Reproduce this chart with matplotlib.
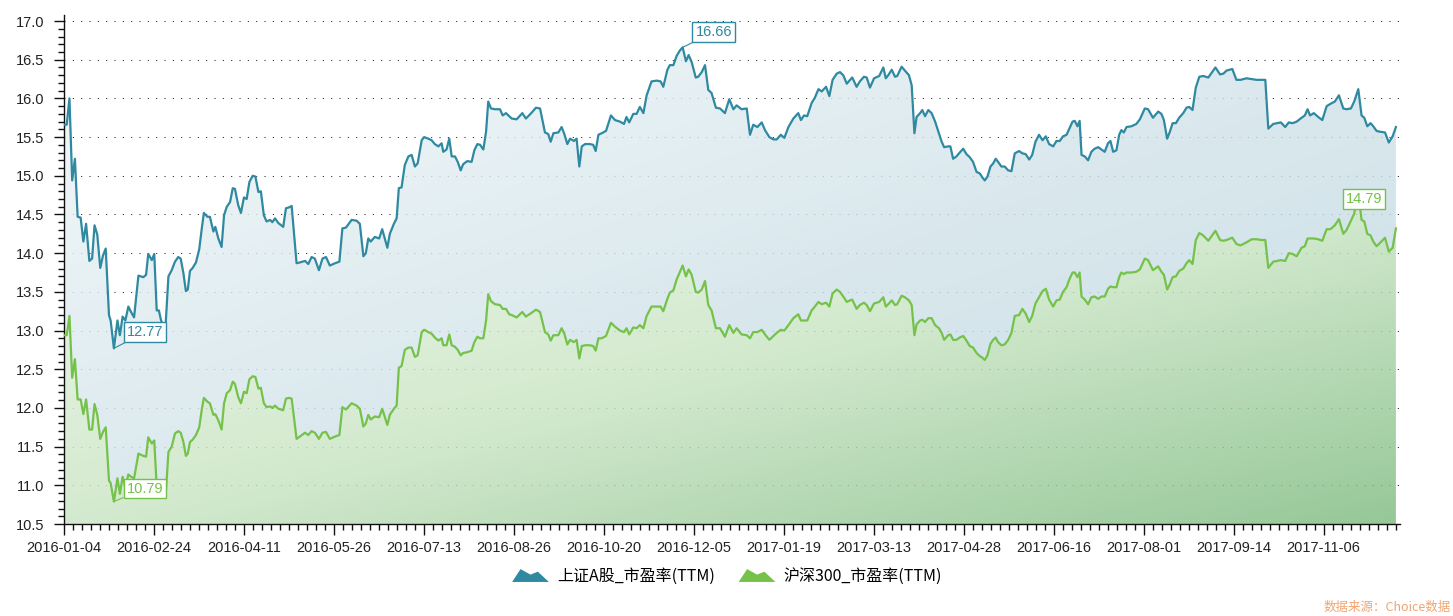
import numpy as np
import matplotlib
matplotlib.use('Agg')
import matplotlib.pyplot as plt
from matplotlib.ticker import MultipleLocator, FixedLocator, FormatStrFormatter
from matplotlib.legend_handler import HandlerBase
from matplotlib.patches import Polygon, Patch
from matplotlib.colors import LinearSegmentedColormap

# trading-day position (0 = 2016-01-04)
day_pos = [
    0.4, 1.0, 2.0, 3.0, 4.0, 5.0, 6.1, 7.1, 8.1, 9.3, 10.3, 11.2, 12.2, 13.3, 14.3, 15.3,
    16.5, 17.1, 18.3, 19.6, 20.5, 21.5, 22.5, 23.6, 24.6, 25.7, 27.3, 29.1, 30.1, 30.9,
    32.2, 33.1, 34.0, 34.8, 35.6, 36.4, 37.3, 38.3, 39.5, 40.7, 41.9, 42.8, 43.8, 44.7,
    45.4, 46.2, 47.2, 48.4, 49.6, 50.5, 51.3, 52.6, 53.5, 54.8, 55.5, 56.6, 57.8, 58.7,
    59.7, 60.9, 61.9, 62.7, 63.9, 64.9, 66.0, 67.0, 68.0, 69.2, 70.2, 71.3, 72.2, 73.3,
    74.3, 75.6, 76.4, 77.4, 78.6, 80.4, 81.4, 82.4,
    83.5, 85.3, 86.5, 88.4, 89.6, 90.8, 92.0, 93.5, 94.8, 96.1, 97.5, 99.4, 101.0, 102.1,
    103.4, 105.5, 107.3, 108.5, 109.8, 110.7, 111.6, 112.5, 114.0, 115.6, 116.7, 118.6,
    119.5, 121.0, 122.0, 122.8, 123.8, 125.0, 126.3, 127.5, 128.7, 129.7, 131.2, 132.1,
    133.6, 134.8, 136.0, 137.3, 138.5, 139.1, 140.3, 141.3, 142.2, 143.4, 144.4, 145.5,
    146.4, 147.9, 149.5, 150.5, 151.6, 152.6, 153.8, 154.8, 155.6, 156.6, 158.1, 159.9,
    160.9, 162.1, 163.3,
    164.2, 166.0, 168.1, 169.4, 171.1, 173.1, 174.6, 176.4, 177.6, 178.5, 179.5, 181.3,
    182.5, 183.5, 184.6, 185.6, 187.0, 188.0, 189.0, 189.9, 191.1, 192.9, 194.1, 195.0,
    196.0, 197.2, 198.8, 200.6, 202.1, 203.9, 205.4, 206.3, 207.3, 208.8, 210.0, 211.2,
    212.5, 213.7, 215.5, 217.4, 218.8, 219.8, 221.3, 222.2, 223.5, 224.7, 225.9, 226.9,
    228.1, 229.1, 230.2, 231.7, 232.6, 233.9, 235.1, 236.3, 237.5, 239.1, 240.6, 242.4,
    244.0,
    245.5, 246.7, 248.5, 250.4, 251.6, 252.8, 254.3, 255.9, 257.1, 258.7, 260.2, 261.4,
    262.9, 264.2, 265.7, 267.5, 269.3, 270.3, 271.4, 272.6, 274.2, 275.4, 276.7, 277.9,
    279.5, 280.7, 281.9, 283.4, 284.6, 285.8, 287.1, 288.3, 289.1, 290.7, 291.9, 293.4,
    294.4, 295.6, 297.1, 299.0, 300.5, 301.4, 302.3, 303.6, 304.8, 305.6, 307.2, 308.4,
    309.9, 310.9, 311.9, 312.7, 314.0, 314.8, 315.8, 317.0, 318.2, 319.5, 320.9, 321.9,
    322.8, 324.3,
    325.1, 326.1, 327.3, 328.5, 329.8, 331.0, 332.2, 333.4, 334.7, 335.9, 336.8, 337.7,
    338.7, 339.8, 340.8, 341.7, 342.6, 343.8, 345.0, 346.3, 347.5, 348.7, 350.3, 351.5,
    352.7, 354.0, 355.1, 356.3, 357.6, 358.9, 360.1, 361.3, 362.8, 364.0, 365.2, 366.4,
    367.7, 368.6, 369.9, 370.7, 371.7, 372.5, 373.2, 374.4, 375.6, 376.8, 378.0, 379.3,
    380.5, 381.7, 382.9, 383.8, 384.8, 386.0, 387.0, 387.8, 388.7, 389.7, 391.5, 393.3,
    394.6, 396.4, 397.6, 399.4, 401.3, 402.5, 403.4, 404.6, 405.6,
    406.6, 407.8, 409.0, 410.5, 411.7, 412.7, 413.9, 415.1, 416.4, 417.8, 419.7, 420.9,
    422.3, 424.0, 425.2, 426.4, 428.5, 430.0, 431.5, 433.7, 435.6, 437.4, 439.2, 440.6,
    441.7, 443.5, 445.0, 446.3, 447.9, 449.2, 450.6, 452.1, 453.9, 455.1, 456.1, 457.0,
    458.4, 460.0, 461.5, 463.1, 464.5, 466.1, 467.6, 469.2, 470.4, 472.0, 473.2, 474.7,
    475.9, 476.9, 478.0, 479.2, 480.2, 481.4, 482.6, 484.5, 485.9, 487.3, 488.5,
]

sh_pe = [
    15.66, 15.66, 16.00, 14.94, 15.22, 14.47, 14.46, 14.15, 14.38, 13.90, 13.93, 14.36, 14.24, 13.81, 13.97, 14.06,
    13.20, 13.13, 12.77, 13.13, 12.94, 13.18, 13.13, 13.31, 13.24, 13.17, 13.71, 13.69, 13.72, 13.99,
    13.91, 13.99, 13.26, 13.26, 13.13, 13.07, 13.09, 13.70, 13.78, 13.89, 13.95, 13.93, 13.74, 13.51,
    13.53, 13.77, 13.81, 13.88, 14.05, 14.31, 14.52, 14.47, 14.47, 14.28, 14.34, 14.19, 14.08, 14.49,
    14.60, 14.66, 14.84, 14.83, 14.62, 14.52, 14.72, 14.70, 14.92, 15.00, 14.99, 14.79, 14.80, 14.49,
    14.41, 14.43, 14.40, 14.45, 14.39, 14.34, 14.58, 14.59,
    14.61, 13.87, 13.88, 13.90, 13.86, 13.95, 13.93, 13.78, 13.93, 13.95, 13.84, 13.87, 13.89, 14.32,
    14.33, 14.43, 14.42, 14.38, 13.96, 14.00, 14.19, 14.15, 14.21, 14.19, 14.31, 14.07,
    14.25, 14.38, 14.45, 14.84, 14.85, 15.14, 15.25, 15.27, 15.12, 15.16, 15.46, 15.50,
    15.48, 15.46, 15.41, 15.38, 15.42, 15.31, 15.34, 15.48, 15.25, 15.25, 15.18, 15.07,
    15.15, 15.19, 15.18, 15.33, 15.41, 15.40, 15.34, 15.57, 15.96, 15.87, 15.86, 15.86,
    15.78, 15.81, 15.77,
    15.74, 15.73, 15.81, 15.74, 15.80, 15.88, 15.87, 15.56, 15.54, 15.44, 15.55, 15.56,
    15.63, 15.54, 15.41, 15.48, 15.45, 15.48, 15.12, 15.38, 15.41, 15.41, 15.40, 15.32,
    15.53, 15.55, 15.58, 15.78, 15.72, 15.70, 15.67, 15.76, 15.69, 15.80, 15.80, 15.89,
    15.81, 16.04, 16.22, 16.23, 16.22, 16.15, 16.37, 16.43, 16.43, 16.55, 16.62, 16.66,
    16.48, 16.56, 16.47, 16.27, 16.28, 16.34, 16.43, 16.11, 16.07, 15.88, 15.87, 15.81,
    15.99,
    15.86, 15.91, 15.86, 15.87, 15.53, 15.66, 15.63, 15.69, 15.59, 15.50, 15.47, 15.47,
    15.53, 15.49, 15.63, 15.74, 15.81, 15.72, 15.78, 15.77, 15.94, 16.01, 16.12, 16.09,
    16.15, 16.03, 16.24, 16.32, 16.34, 16.30, 16.19, 16.24, 16.27, 16.15, 16.22, 16.28,
    16.27, 16.14, 16.26, 16.29, 16.40, 16.26, 16.30, 16.37, 16.28, 16.29, 16.41, 16.36,
    16.30, 16.17, 15.55, 15.76, 15.81, 15.85, 15.77, 15.85, 15.81, 15.70, 15.55, 15.44,
    15.37, 15.38,
    15.38, 15.22, 15.25, 15.30, 15.35, 15.28, 15.24, 15.18, 15.05, 15.03, 14.98, 14.94,
    14.99, 15.12, 15.16, 15.22, 15.18, 15.12, 15.12, 15.07, 15.06, 15.29, 15.32, 15.29,
    15.28, 15.21, 15.27, 15.44, 15.53, 15.46, 15.51, 15.41, 15.38, 15.45, 15.45, 15.51,
    15.53, 15.60, 15.70, 15.71, 15.64, 15.71, 15.27, 15.25, 15.20, 15.31, 15.35, 15.37,
    15.34, 15.31, 15.42, 15.45, 15.31, 15.33, 15.53, 15.59, 15.56, 15.63, 15.64, 15.67,
    15.73, 15.87, 15.86, 15.75, 15.83, 15.80, 15.72, 15.48, 15.57,
    15.68, 15.68, 15.75, 15.81, 15.88, 15.89, 15.85, 16.14, 16.28, 16.29, 16.27, 16.33,
    16.40, 16.31, 16.32, 16.36, 16.38, 16.24, 16.24, 16.26, 16.25, 16.24, 16.24, 16.24,
    15.61, 15.67, 15.68, 15.69, 15.63, 15.69, 15.68, 15.70, 15.75, 15.78, 15.86, 15.78,
    15.81, 15.76, 15.72, 15.90, 15.93, 15.96, 16.04, 15.87, 15.86, 15.87, 15.96, 16.12,
    15.78, 15.75, 15.64, 15.68, 15.64, 15.58, 15.57, 15.56, 15.43, 15.51, 15.63,
]

hs300_pe = [
    12.94, 12.94, 13.19, 12.39, 12.63, 12.11, 12.11, 11.92, 12.11, 11.72, 11.72, 12.05, 11.91, 11.60, 11.69, 11.75,
    11.06, 11.03, 10.79, 11.09, 10.89, 11.11, 10.98, 11.14, 11.11, 11.09, 11.41, 11.38, 11.37, 11.62,
    11.54, 11.58, 10.98, 10.90, 10.86, 10.87, 10.87, 11.43, 11.50, 11.67, 11.70, 11.68, 11.56, 11.38,
    11.41, 11.56, 11.59, 11.65, 11.75, 11.97, 12.13, 12.08, 12.06, 11.91, 11.92, 11.84, 11.72, 12.06,
    12.19, 12.23, 12.34, 12.31, 12.14, 12.06, 12.21, 12.19, 12.37, 12.41, 12.40, 12.25, 12.26, 12.06,
    12.01, 12.02, 12.00, 12.03, 11.99, 11.97, 12.12, 12.13,
    12.12, 11.60, 11.63, 11.68, 11.65, 11.70, 11.68, 11.60, 11.68, 11.69, 11.60, 11.63, 11.65, 12.01,
    11.98, 12.06, 12.03, 11.99, 11.76, 11.80, 11.91, 11.85, 11.89, 11.88, 11.99, 11.78,
    11.91, 11.99, 12.03, 12.52, 12.54, 12.75, 12.78, 12.78, 12.66, 12.68, 12.98, 13.01,
    12.98, 12.96, 12.91, 12.87, 12.90, 12.81, 12.81, 12.95, 12.81, 12.79, 12.75, 12.68,
    12.71, 12.72, 12.74, 12.85, 12.92, 12.90, 12.90, 13.13, 13.47, 13.38, 13.34, 13.33,
    13.28, 13.28, 13.21,
    13.20, 13.17, 13.24, 13.18, 13.22, 13.27, 13.24, 12.98, 12.95, 12.87, 12.94, 12.94,
    13.03, 12.96, 12.82, 12.88, 12.85, 12.88, 12.64, 12.80, 12.81, 12.81, 12.80, 12.74,
    12.90, 12.90, 12.93, 13.10, 13.05, 13.00, 12.98, 13.03, 12.95, 13.04, 13.03, 13.07,
    13.03, 13.19, 13.31, 13.31, 13.31, 13.25, 13.41, 13.49, 13.52, 13.66, 13.76, 13.84,
    13.70, 13.79, 13.72, 13.50, 13.49, 13.53, 13.64, 13.33, 13.26, 13.03, 13.03, 12.92,
    13.07,
    12.97, 13.03, 12.95, 12.94, 12.90, 12.98, 12.98, 13.01, 12.95, 12.88, 12.93, 12.97,
    13.01, 13.00, 13.07, 13.16, 13.21, 13.13, 13.13, 13.13, 13.26, 13.31, 13.37, 13.34,
    13.36, 13.31, 13.48, 13.53, 13.50, 13.44, 13.37, 13.39, 13.40, 13.28, 13.33, 13.36,
    13.33, 13.25, 13.35, 13.37, 13.43, 13.31, 13.34, 13.39, 13.33, 13.34, 13.45, 13.43,
    13.39, 13.33, 12.94, 13.08, 13.13, 13.14, 13.11, 13.16, 13.16, 13.07, 13.03, 12.97,
    12.88, 12.94,
    12.95, 12.88, 12.88, 12.91, 12.93, 12.87, 12.80, 12.78, 12.71, 12.67, 12.65, 12.62,
    12.68, 12.83, 12.88, 12.91, 12.85, 12.81, 12.82, 12.88, 12.97, 13.19, 13.20, 13.28,
    13.22, 13.11, 13.19, 13.35, 13.43, 13.51, 13.54, 13.40, 13.31, 13.39, 13.40, 13.50,
    13.56, 13.65, 13.75, 13.75, 13.69, 13.75, 13.44, 13.40, 13.34, 13.43, 13.44, 13.41,
    13.44, 13.44, 13.54, 13.57, 13.56, 13.56, 13.69, 13.75, 13.73, 13.75, 13.75, 13.76,
    13.79, 13.93, 13.91, 13.78, 13.83, 13.76, 13.72, 13.53, 13.60,
    13.69, 13.70, 13.77, 13.80, 13.87, 13.91, 13.86, 14.17, 14.26, 14.23, 14.16, 14.22,
    14.29, 14.17, 14.16, 14.17, 14.20, 14.12, 14.10, 14.14, 14.18, 14.18, 14.17, 14.17,
    13.81, 13.89, 13.90, 13.91, 13.90, 14.00, 13.99, 13.96, 14.07, 14.09, 14.19, 14.19,
    14.19, 14.18, 14.16, 14.31, 14.31, 14.36, 14.44, 14.25, 14.30, 14.42, 14.51, 14.79,
    14.43, 14.41, 14.25, 14.23, 14.15, 14.09, 14.13, 14.20, 14.02, 14.07, 14.32,
]

date_ticks = [0, 33, 66, 99, 132, 165, 198, 231, 264, 297, 330, 363, 396, 429, 462]
date_labels = ['2016-01-04', '2016-02-24', '2016-04-11', '2016-05-26', '2016-07-13',
               '2016-08-26', '2016-10-20', '2016-12-05', '2017-01-19', '2017-03-13',
               '2017-04-28', '2017-06-16', '2017-08-01', '2017-09-14', '2017-11-06']

series_names = ['上证A股_市盈率(TTM)', '沪深300_市盈率(TTM)']
source_text = '数据来源：Choice数据'

BLUE = '#2f89a1'
GREEN = '#74c249'
FILL_ALPHA = 0.8

plt.rcParams['font.family'] = ['Liberation Sans', 'Noto Sans CJK SC', 'DejaVu Sans']


def gradient_area(ax, x, top, bottom, stops):
    poly = ax.fill_between(x, top, bottom, facecolor='none', edgecolor='none', lw=0)
    cmap = LinearSegmentedColormap.from_list('grad', stops)
    X, Y = np.meshgrid(np.linspace(0, 1, 400), np.linspace(0, 1, 200))
    rgba = cmap((X + Y) / 2)
    # pre-compensate so that the translucent fill lands on the wanted colour
    rgba[..., :3] = np.clip((rgba[..., :3] - (1 - FILL_ALPHA)) / FILL_ALPHA, 0, 1)
    rgba[..., 3] = FILL_ALPHA
    im = ax.imshow(rgba, extent=[min(x), max(x), 10.5, max(top)], origin='upper',
                   aspect='auto', zorder=1, interpolation='bilinear')
    im.set_clip_path(poly.get_paths()[0], transform=ax.transData)


class MountainHandler(HandlerBase):
    def create_artists(self, legend, orig_handle, xdescent, ydescent, width, height, fontsize, trans):
        x0, y0 = -xdescent, -ydescent - 0.1 * height
        w, h = width, height * 1.1
        pts = [(x0, y0), (x0 + 0.23 * w, y0 + h), (x0 + 0.5 * w, y0 + 0.57 * h),
               (x0 + 0.7 * w, y0 + 0.8 * h), (x0 + w, y0)]
        return [Polygon(pts, closed=True, facecolor=orig_handle.get_facecolor(),
                        edgecolor='none', transform=trans)]


fig = plt.figure(figsize=(14.53, 6.16), dpi=100)
ax = fig.add_axes([64 / 1453, 1 - 524 / 616, 1336 / 1453, 509 / 616])

x = np.array(day_pos)
sh = np.array(sh_pe)
hs = np.array(hs300_pe)

gradient_area(ax, x, sh, hs, ['#f4f9fa', '#dbe9ee', '#c6dde4'])
gradient_area(ax, x, hs, np.full_like(hs, 10.5), ['#eef7ea', '#d4eacf', '#96c898'])

ax.plot(x, sh, color=BLUE, lw=1.6, zorder=3, solid_joinstyle='round')
ax.plot(x, hs, color=GREEN, lw=1.6, zorder=3, solid_joinstyle='round')

ax.set_xlim(0, 490)
ax.set_ylim(10.5, 17.078)

ax.yaxis.set_major_locator(FixedLocator(np.arange(10.5, 17.01, 0.5)))
ax.yaxis.set_major_formatter(FormatStrFormatter('%.1f'))
ax.yaxis.set_minor_locator(MultipleLocator(0.1))
ax.xaxis.set_major_locator(FixedLocator(date_ticks))
ax.set_xticklabels(date_labels)
ax.xaxis.set_minor_locator(MultipleLocator(3.3))

ax.grid(axis='y', which='major', color='#222222', linestyle=(0, (1, 7)), linewidth=0.75, zorder=0)
ax.set_axisbelow(True)

for side in ['top', 'right']:
    ax.spines[side].set_visible(False)
for side in ['left', 'bottom']:
    ax.spines[side].set_color('#111111')
    ax.spines[side].set_linewidth(1.0)

ax.tick_params(axis='both', which='major', labelsize=10.5, labelcolor='#222222', color='#111111', width=1)
ax.tick_params(axis='y', which='major', length=7, pad=7)
ax.tick_params(axis='y', which='minor', length=4, width=1, color='#111111')
ax.tick_params(axis='x', which='major', length=8, pad=4)
ax.tick_params(axis='x', which='minor', length=4, width=1, color='#111111')

# extreme-value labels
marks = [
    (226.9, 16.66, '16.66', BLUE, (31, 15), True),
    (18.3, 12.77, '12.77', BLUE, (31, 16), True),
    (18.3, 10.79, '10.79', GREEN, (31, 13), True),
    (474.7, 14.79, '14.79', GREEN, (6, -7), False),
]
for mx, my, txt, col, off, leader in marks:
    ax.annotate(txt, xy=(mx, my), xytext=off, textcoords='offset pixels',
                ha='center', va='center', fontsize=10.5, color=col, zorder=5,
                bbox=dict(boxstyle='square,pad=0.2', facecolor='white', edgecolor=col, lw=1),
                arrowprops=dict(arrowstyle='-', color=col, lw=0.8, shrinkA=0, shrinkB=0) if leader else None)

handles = [Patch(facecolor=BLUE), Patch(facecolor=GREEN)]
fig.legend(handles, series_names, loc='center', bbox_to_anchor=(727 / 1453, 1 - 576 / 616),
           ncol=2, frameon=False, handlelength=2.3, handleheight=0.75,
           handletextpad=0.5, columnspacing=1.5,
           handler_map={Patch: MountainHandler()},
           prop={'family': ['Noto Sans CJK SC', 'DejaVu Sans'], 'size': 11.5})

fig.text(1451 / 1453, 1 - 607 / 616, source_text, ha='right', va='center',
         fontsize=9, color='#f2a36e', family=['Noto Sans CJK SC', 'DejaVu Sans'])

fig.savefig('out.png', dpi=100)
